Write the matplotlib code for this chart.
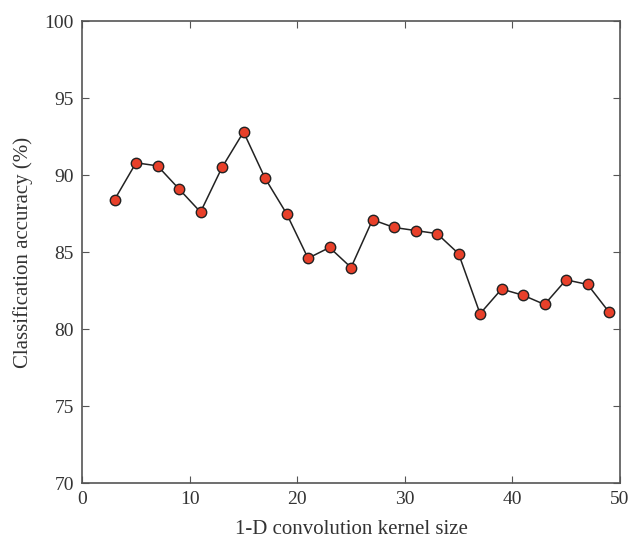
import matplotlib
matplotlib.use("Agg")
import matplotlib.pyplot as plt

kernel_size = [3, 5, 7, 9, 11, 13, 15, 17, 19, 21, 23, 25, 27, 29, 31, 33, 35, 37, 39, 41, 43, 45, 47, 49]
accuracy = [88.4, 90.8, 90.6, 89.1, 87.6, 90.5, 92.8, 89.8, 87.5, 84.6, 85.3, 84.0,
            87.1, 86.6, 86.4, 86.2, 84.9, 81.0, 82.6, 82.2, 81.6, 83.2, 82.9, 81.1]
xticks = [0, 10, 20, 30, 40, 50]
yticks = [70, 75, 80, 85, 90, 95, 100]

plt.rcParams['font.family'] = ['Liberation Serif', 'DejaVu Serif']
fig = plt.figure(figsize=(6.28, 5.41), dpi=100)
ax = fig.add_axes([0.131, 0.107, 0.856, 0.854])
ax.plot(kernel_size, accuracy, color='#222222', lw=1.1, marker='o', markersize=7.5,
        markerfacecolor='#E8402A', markeredgecolor='#222222', markeredgewidth=1.0)
ax.set_xlim(0, 50)
ax.set_ylim(70, 100)
ax.set_xticks(xticks)
ax.set_yticks(yticks)
ax.tick_params(direction='in', top=True, right=True, labelsize=14, length=5,
               color='#555555', labelcolor='#333333', pad=6)
for s in ax.spines.values():
    s.set_color('#555555')
    s.set_linewidth(1.2)
ax.set_xlabel('1-D convolution kernel size', fontsize=15, color='#333333', labelpad=8)
ax.set_ylabel('Classification accuracy (%)', fontsize=15, color='#333333', labelpad=8)
fig.savefig('out.png', dpi=100)
